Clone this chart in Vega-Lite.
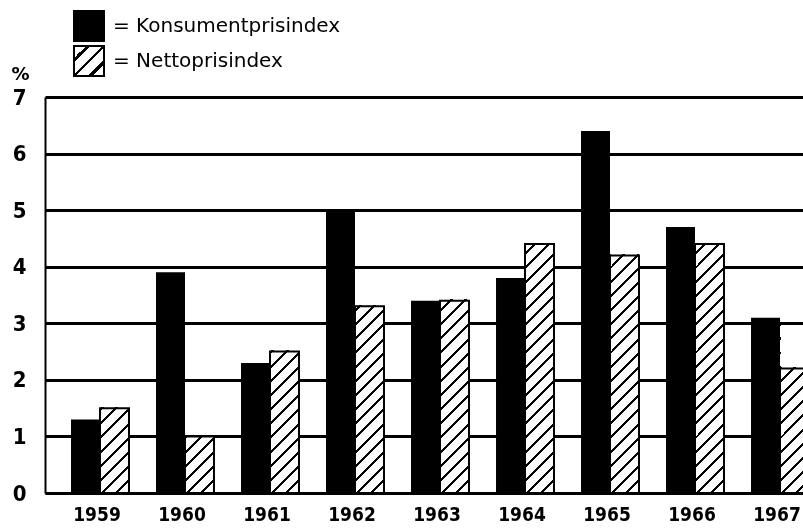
{
  "$schema": "https://vega.github.io/schema/vega-lite/v6.json",
  "width": 758,
  "height": 396,
  "autosize": {"type": "none"},
  "padding": {"left": 45, "top": 97, "right": 0, "bottom": 35},
  "background": "white",
  "config": {"view": {"stroke": null}},
  "data": {
    "values": [
      {"year": "1959", "series": "Konsumentprisindex", "value": 1.3},
      {"year": "1959", "series": "Nettoprisindex", "value": 1.5},
      {"year": "1960", "series": "Konsumentprisindex", "value": 3.9},
      {"year": "1960", "series": "Nettoprisindex", "value": 1.0},
      {"year": "1961", "series": "Konsumentprisindex", "value": 2.3},
      {"year": "1961", "series": "Nettoprisindex", "value": 2.5},
      {"year": "1962", "series": "Konsumentprisindex", "value": 5.0},
      {"year": "1962", "series": "Nettoprisindex", "value": 3.3},
      {"year": "1963", "series": "Konsumentprisindex", "value": 3.4},
      {"year": "1963", "series": "Nettoprisindex", "value": 3.4},
      {"year": "1964", "series": "Konsumentprisindex", "value": 3.8},
      {"year": "1964", "series": "Nettoprisindex", "value": 4.4},
      {"year": "1965", "series": "Konsumentprisindex", "value": 6.4},
      {"year": "1965", "series": "Nettoprisindex", "value": 4.2},
      {"year": "1966", "series": "Konsumentprisindex", "value": 4.7},
      {"year": "1966", "series": "Nettoprisindex", "value": 4.4},
      {"year": "1967", "series": "Konsumentprisindex", "value": 3.1},
      {"year": "1967", "series": "Nettoprisindex", "value": 2.2}
    ]
  },
  "encoding": {
    "x": {
      "field": "year",
      "type": "ordinal",
      "scale": {"range": [0, 790], "paddingInner": 0.318, "paddingOuter": 0.306},
      "axis": {
        "title": null,
        "labelAngle": 0,
        "ticks": false,
        "domainColor": "black",
        "domainWidth": 2.5,
        "labelFont": "DejaVu Sans Condensed, DejaVu Sans",
        "labelFontWeight": "bold",
        "labelFontSize": 19,
        "labelColor": "black",
        "labelPadding": 12,
        "labelOffset": -3
      }
    },
    "xOffset": {
      "field": "series",
      "type": "nominal",
      "scale": {"domain": ["Konsumentprisindex", "Nettoprisindex"]}
    },
    "y": {
      "type": "quantitative",
      "scale": {"domain": [0, 7]},
      "axis": {
        "values": [0, 1, 2, 3, 4, 5, 6, 7],
        "title": "%",
        "titleAngle": 0,
        "titleX": -25,
        "titleY": -23,
        "titleAlign": "center",
        "titleBaseline": "middle",
        "titleFont": "DejaVu Sans",
        "titleFontSize": 18,
        "titleFontWeight": "bold",
        "titleColor": "black",
        "ticks": false,
        "grid": true,
        "gridColor": "black",
        "gridWidth": 3,
        "gridOpacity": 1,
        "domainColor": "black",
        "domainWidth": 2,
        "labelFont": "DejaVu Sans Condensed, DejaVu Sans",
        "labelFontWeight": "bold",
        "labelFontSize": 22,
        "labelColor": "black",
        "labelPadding": 19
      }
    }
  },
  "layer": [
    {
      "mark": {"type": "bar"},
      "encoding": {
        "y": {"field": "value", "type": "quantitative", "title": "%"},
        "strokeWidth": {
          "condition": {"test": "datum.series === 'Nettoprisindex'", "value": 2},
          "value": 0
        },
        "fill": {
          "field": "series",
          "type": "nominal",
          "scale": {"domain": ["Konsumentprisindex", "Nettoprisindex"], "range": ["black", "#fefefe"]},
          "legend": null
        },
        "stroke": {
          "field": "series",
          "type": "nominal",
          "scale": {"domain": ["Nettoprisindex", "Konsumentprisindex"], "range": ["black", "black"]},
          "legend": {
            "values": ["Konsumentprisindex", "Nettoprisindex"],
            "orient": "none",
            "legendX": 28,
            "legendY": -87,
            "title": null,
            "symbolType": "square",
            "symbolSize": 900,
            "symbolStrokeWidth": 2,
            "symbolOpacity": 1,
            "labelFont": "DejaVu Sans",
            "labelFontSize": 20,
            "labelColor": "black",
            "labelOffset": 8,
            "labelLimit": 400,
            "rowPadding": -3,
            "labelExpr": "'= ' + datum.label",
            "encoding": {
              "symbols": {
                "fill": {
                  "condition": {
                    "test": "datum.value === 'Nettoprisindex'",
                    "value": {
                      "gradient": "linear",
                      "x1": 0, "y1": 0, "x2": 1, "y2": 1,
                      "stops": [
                        {"offset": 0, "color": "#fff"},
                        {"offset": 0.2, "color": "#fff"},
                        {"offset": 0.2, "color": "#000"},
                        {"offset": 0.2667, "color": "#000"},
                        {"offset": 0.2667, "color": "#fff"},
                        {"offset": 0.4667, "color": "#fff"},
                        {"offset": 0.4667, "color": "#000"},
                        {"offset": 0.5333, "color": "#000"},
                        {"offset": 0.5333, "color": "#fff"},
                        {"offset": 0.7333, "color": "#fff"},
                        {"offset": 0.7333, "color": "#000"},
                        {"offset": 0.8, "color": "#000"},
                        {"offset": 0.8, "color": "#fff"},
                        {"offset": 1, "color": "#fff"}
                      ]
                    }
                  },
                  "value": "black"
                },
                "stroke": {"value": "black"},
                "strokeWidth": {"value": 2},
                "opacity": {"value": 1}
              }
            }
          }
        }
      }
    },
    {
      "transform": [{"filter": "datum.series === 'Nettoprisindex'"}],
      "mark": {
        "type": "bar",
        "blend": "color-burn",
        "strokeWidth": 0,
        "fill": {
          "gradient": "linear",
          "x1": 0, "y1": 0, "x2": 0.0782, "y2": 1.0675,
          "stops": [
            {"offset": 0, "color": "#000"}, {"offset": 0.007, "color": "#000"}, {"offset": 0.007, "color": "#fff"},
            {"offset": 0.0333, "color": "#fff"}, {"offset": 0.0333, "color": "#000"}, {"offset": 0.0403, "color": "#000"}, {"offset": 0.0403, "color": "#fff"},
            {"offset": 0.0667, "color": "#fff"}, {"offset": 0.0667, "color": "#000"}, {"offset": 0.0737, "color": "#000"}, {"offset": 0.0737, "color": "#fff"},
            {"offset": 0.1, "color": "#fff"}, {"offset": 0.1, "color": "#000"}, {"offset": 0.107, "color": "#000"}, {"offset": 0.107, "color": "#fff"},
            {"offset": 0.1333, "color": "#fff"}, {"offset": 0.1333, "color": "#000"}, {"offset": 0.1403, "color": "#000"}, {"offset": 0.1403, "color": "#fff"},
            {"offset": 0.1667, "color": "#fff"}, {"offset": 0.1667, "color": "#000"}, {"offset": 0.1737, "color": "#000"}, {"offset": 0.1737, "color": "#fff"},
            {"offset": 0.2, "color": "#fff"}, {"offset": 0.2, "color": "#000"}, {"offset": 0.207, "color": "#000"}, {"offset": 0.207, "color": "#fff"},
            {"offset": 0.2333, "color": "#fff"}, {"offset": 0.2333, "color": "#000"}, {"offset": 0.2403, "color": "#000"}, {"offset": 0.2403, "color": "#fff"},
            {"offset": 0.2667, "color": "#fff"}, {"offset": 0.2667, "color": "#000"}, {"offset": 0.2737, "color": "#000"}, {"offset": 0.2737, "color": "#fff"},
            {"offset": 0.3, "color": "#fff"}, {"offset": 0.3, "color": "#000"}, {"offset": 0.307, "color": "#000"}, {"offset": 0.307, "color": "#fff"},
            {"offset": 0.3333, "color": "#fff"}, {"offset": 0.3333, "color": "#000"}, {"offset": 0.3403, "color": "#000"}, {"offset": 0.3403, "color": "#fff"},
            {"offset": 0.3667, "color": "#fff"}, {"offset": 0.3667, "color": "#000"}, {"offset": 0.3737, "color": "#000"}, {"offset": 0.3737, "color": "#fff"},
            {"offset": 0.4, "color": "#fff"}, {"offset": 0.4, "color": "#000"}, {"offset": 0.407, "color": "#000"}, {"offset": 0.407, "color": "#fff"},
            {"offset": 0.4333, "color": "#fff"}, {"offset": 0.4333, "color": "#000"}, {"offset": 0.4403, "color": "#000"}, {"offset": 0.4403, "color": "#fff"},
            {"offset": 0.4667, "color": "#fff"}, {"offset": 0.4667, "color": "#000"}, {"offset": 0.4737, "color": "#000"}, {"offset": 0.4737, "color": "#fff"},
            {"offset": 0.5, "color": "#fff"}, {"offset": 0.5, "color": "#000"}, {"offset": 0.507, "color": "#000"}, {"offset": 0.507, "color": "#fff"},
            {"offset": 0.5333, "color": "#fff"}, {"offset": 0.5333, "color": "#000"}, {"offset": 0.5403, "color": "#000"}, {"offset": 0.5403, "color": "#fff"},
            {"offset": 0.5667, "color": "#fff"}, {"offset": 0.5667, "color": "#000"}, {"offset": 0.5737, "color": "#000"}, {"offset": 0.5737, "color": "#fff"},
            {"offset": 0.6, "color": "#fff"}, {"offset": 0.6, "color": "#000"}, {"offset": 0.607, "color": "#000"}, {"offset": 0.607, "color": "#fff"},
            {"offset": 0.6333, "color": "#fff"}, {"offset": 0.6333, "color": "#000"}, {"offset": 0.6403, "color": "#000"}, {"offset": 0.6403, "color": "#fff"},
            {"offset": 0.6667, "color": "#fff"}, {"offset": 0.6667, "color": "#000"}, {"offset": 0.6737, "color": "#000"}, {"offset": 0.6737, "color": "#fff"},
            {"offset": 0.7, "color": "#fff"}, {"offset": 0.7, "color": "#000"}, {"offset": 0.707, "color": "#000"}, {"offset": 0.707, "color": "#fff"},
            {"offset": 0.7333, "color": "#fff"}, {"offset": 0.7333, "color": "#000"}, {"offset": 0.7403, "color": "#000"}, {"offset": 0.7403, "color": "#fff"},
            {"offset": 0.7667, "color": "#fff"}, {"offset": 0.7667, "color": "#000"}, {"offset": 0.7737, "color": "#000"}, {"offset": 0.7737, "color": "#fff"},
            {"offset": 0.8, "color": "#fff"}, {"offset": 0.8, "color": "#000"}, {"offset": 0.807, "color": "#000"}, {"offset": 0.807, "color": "#fff"},
            {"offset": 0.8333, "color": "#fff"}, {"offset": 0.8333, "color": "#000"}, {"offset": 0.8403, "color": "#000"}, {"offset": 0.8403, "color": "#fff"},
            {"offset": 0.8667, "color": "#fff"}, {"offset": 0.8667, "color": "#000"}, {"offset": 0.8737, "color": "#000"}, {"offset": 0.8737, "color": "#fff"},
            {"offset": 0.9, "color": "#fff"}, {"offset": 0.9, "color": "#000"}, {"offset": 0.907, "color": "#000"}, {"offset": 0.907, "color": "#fff"},
            {"offset": 0.9333, "color": "#fff"}, {"offset": 0.9333, "color": "#000"}, {"offset": 0.9403, "color": "#000"}, {"offset": 0.9403, "color": "#fff"},
            {"offset": 0.9667, "color": "#fff"}, {"offset": 0.9667, "color": "#000"}, {"offset": 0.9737, "color": "#000"}, {"offset": 0.9737, "color": "#fff"},
            {"offset": 1, "color": "#fff"}
          ]
        }
      },
      "encoding": {
        "y": {"datum": 7, "type": "quantitative"},
        "y2": {"datum": 0}
      }
    }
  ]
}
